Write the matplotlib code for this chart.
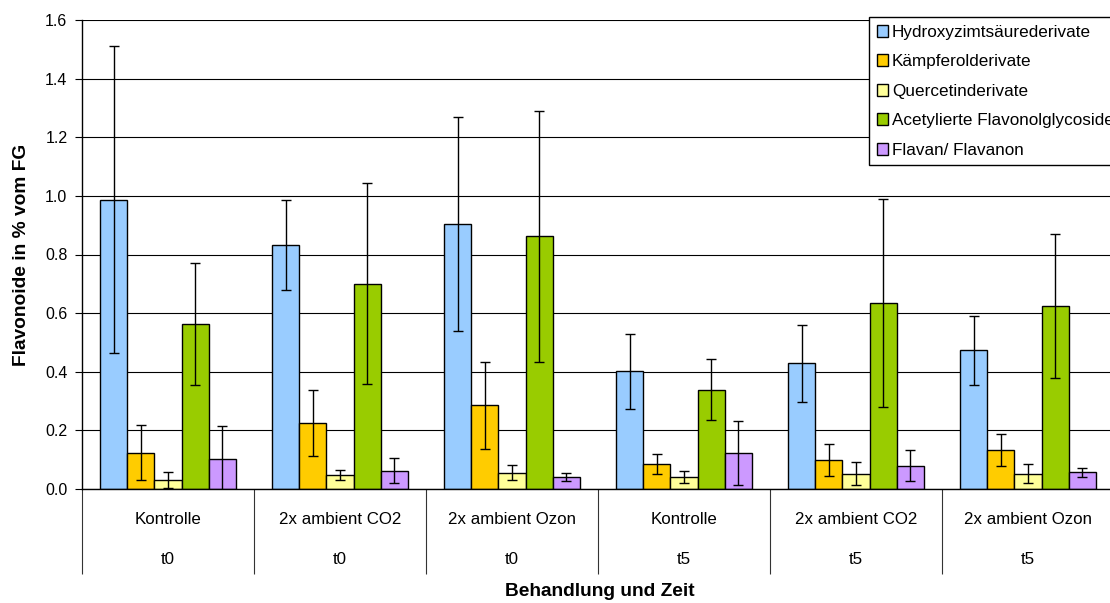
import matplotlib
matplotlib.use("Agg")
import matplotlib.pyplot as plt
import numpy as np

plt.rcParams['font.family'] = ['Liberation Sans', 'DejaVu Sans']

treatments = ["Kontrolle", "2x ambient CO2", "2x ambient Ozon",
              "Kontrolle", "2x ambient CO2", "2x ambient Ozon"]
times = ["t0", "t0", "t0", "t5", "t5", "t5"]

series_names = ["Hydroxyzimtsäurederivate", "Kämpferolderivate", "Quercetinderivate",
                "Acetylierte Flavonolglycoside", "Flavan/ Flavanon"]

hydroxyzimt = [0.987, 0.832, 0.904, 0.401, 0.429, 0.473]
hydroxyzimt_err = [0.523, 0.153, 0.366, 0.127, 0.132, 0.117]
kaempferol = [0.124, 0.226, 0.285, 0.084, 0.100, 0.134]
kaempferol_err = [0.093, 0.112, 0.147, 0.034, 0.055, 0.054]
quercetin = [0.031, 0.048, 0.056, 0.042, 0.052, 0.052]
quercetin_err = [0.027, 0.017, 0.025, 0.021, 0.039, 0.033]
acetyl = [0.563, 0.700, 0.862, 0.339, 0.634, 0.624]
acetyl_err = [0.208, 0.343, 0.428, 0.105, 0.355, 0.246]
flavan = [0.103, 0.063, 0.040, 0.123, 0.080, 0.057]
flavan_err = [0.113, 0.042, 0.013, 0.109, 0.053, 0.016]

values = [hydroxyzimt, kaempferol, quercetin, acetyl, flavan]
errors = [hydroxyzimt_err, kaempferol_err, quercetin_err, acetyl_err, flavan_err]
colors = ["#99CCFF", "#FFCC00", "#FFFF99", "#99CC00", "#CC99FF"]

W, H = 1110, 603
fig = plt.figure(figsize=(W / 100, H / 100), dpi=100)
ax = fig.add_axes([82 / W, (H - 489) / H, 1032 / W, 469 / H])

n_groups = len(treatments)
bar_w = 0.157
x = np.arange(n_groups)
offsets = (np.arange(5) - 2) * bar_w

bars = []
for i in range(5):
    b = ax.bar(x + offsets[i], values[i], width=bar_w, color=colors[i],
               edgecolor="black", linewidth=1.0, zorder=2, label=series_names[i])
    ax.errorbar(x + offsets[i], values[i], yerr=errors[i], fmt="none",
                ecolor="black", elinewidth=1.0, capsize=3.8, capthick=1.0, zorder=3)
    bars.append(b)

ax.set_xlim(-0.5, n_groups - 0.5)
ax.set_ylim(0, 1.6)
ax.set_yticks(np.arange(0, 1.61, 0.2))
ax.set_yticklabels([f"{v:.1f}" for v in np.arange(0, 1.61, 0.2)], fontsize=11.5)
ax.yaxis.grid(True, color="black", linewidth=0.8)
ax.set_axisbelow(True)

for s in ["top", "right"]:
    ax.spines[s].set_visible(False)
ax.spines["left"].set_linewidth(1.0)
ax.spines["bottom"].set_linewidth(1.0)
ax.tick_params(axis="y", direction="out", length=5, width=0.8, pad=5.5)

# group separators as long minor ticks
ax.set_xticks([])
ax.set_xticks(np.arange(-0.5, n_groups, 1.0), minor=True)
ax.tick_params(axis="x", which="minor", direction="out", length=61, width=0.8,
               color="#333333")

trans = ax.get_xaxis_transform()
for i in range(n_groups):
    ax.text(x[i], -31 / 469, treatments[i], transform=trans, ha="center",
            va="center", fontsize=12.2)
    ax.text(x[i], -70 / 469, times[i], transform=trans, ha="center",
            va="center", fontsize=12.2)

fig.text(600 / W, 1 - 591 / H, "Behandlung und Zeit", ha="center", va="center",
         fontsize=13.8, fontweight="bold")
fig.text(22 / W, 1 - 255 / H, "Flavonoide in % vom FG", ha="center", va="center",
         rotation=90, fontsize=13.8, fontweight="bold")

leg = fig.legend(handles=bars, labels=series_names, loc="upper left",
                 bbox_to_anchor=(869 / W, 1 - 17 / H), fontsize=12.3,
                 frameon=True, fancybox=False, framealpha=1, edgecolor="black",
                 handlelength=0.68, handleheight=0.68, handletextpad=0.22,
                 labelspacing=0.85, borderpad=0.45, borderaxespad=0)
leg.get_frame().set_linewidth(1.0)

fig.savefig("out.png", dpi=100)
